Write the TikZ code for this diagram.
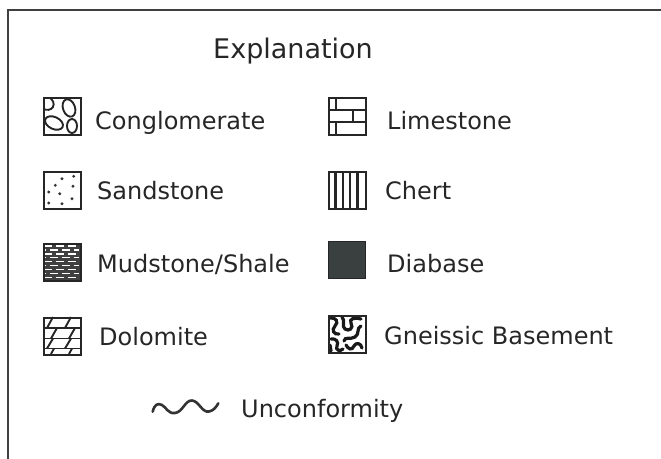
\documentclass[tikz,border=0pt]{standalone}
\usepackage{fontspec}
\setmainfont{DejaVu Sans}
\begin{document}
\begin{tikzpicture}[x=1pt,y=-1pt,
  frame/.style={draw=black!75,line width=2pt},
  symbox/.style={draw=black!85,line width=2.2pt},
  lbl/.style={anchor=base west,font=\fontsize{24}{28}\selectfont,text=black!85,inner sep=0pt},
  pat/.style={draw=black!85,line width=1.9pt}]
\useasboundingbox (0,0) rectangle (661,458);
% frame
\draw[frame] (8,459) -- (8,10) -- (662,10);
% title
\node[anchor=base,font=\fontsize{27}{32}\selectfont,text=black!85,inner sep=0pt] (title) at (293,58) {Explanation};

% ---- Conglomerate
\begin{scope}[shift={(43,97)}]
  \draw[pat] (3,6) ellipse [x radius=8,y radius=6.5,rotate=-30];
  \draw[pat] (26,11) ellipse [x radius=6,y radius=9,rotate=20];
  \draw[pat] (11,26) ellipse [x radius=9.5,y radius=6,rotate=-25];
  \draw[pat] (29,29) ellipse [x radius=5,y radius=7];
  \fill[white] (-10,-10) rectangle (47,0);
  \fill[white] (-10,-10) rectangle (0,47);
  \node[symbox,minimum size=37pt,inner sep=0pt,anchor=north west] (cong) at (0,0) {};
\end{scope}
\node[lbl] (tcong) at (95,129) {Conglomerate};

% ---- Sandstone
\begin{scope}[shift={(43,171)}]
  \node[symbox,minimum size=37pt,inner sep=0pt,anchor=north west] (sand) at (0,0) {};
  \foreach \p in {(19,7.7),(30.7,5.3),(12.3,14.3),(30,15.3),(5.7,21),(16.7,22.7),(29,27.7),(5.7,32),(19,32.7)}
    \fill[black!80] \p circle (1.6);
\end{scope}
\node[lbl] (tsand) at (97,199) {Sandstone};

% ---- Mudstone/Shale
\begin{scope}[shift={(43,243)}]
  \fill[black!75] (0,0) rectangle (37,37);
  \foreach \i in {0,...,8}{
    \pgfmathsetmacro\yy{3+\i*3.9}
    \pgfmathsetmacro\off{mod(\i,2)==0 ? 0 : 6}
    \draw[white,line width=1.4pt,dash pattern=on 8pt off 4pt,dash phase=\off pt] (1,\yy) -- (36,\yy);
  }
  \node[symbox,minimum size=37pt,inner sep=0pt,anchor=north west] (mud) at (0,0) {};
\end{scope}
\node[lbl] (tmud) at (97,272) {Mudstone/Shale};

% ---- Dolomite
\begin{scope}[shift={(43,317)}]
  \node[symbox,minimum size=37pt,inner sep=0pt,anchor=north west] (dolo) at (0,0) {};
  \draw[pat] (0,11) -- (37,11) (0,21.5) -- (37,21.5) (0,31.5) -- (37,31.5);
  \draw[pat] (4,11) -- (10,0) (22,11) -- (28,0);
  \draw[pat] (8,21.5) -- (14,11) (26,21.5) -- (32,11);
  \draw[pat] (4,31.5) -- (10,21.5) (22,31.5) -- (28,21.5);
  \draw[pat] (8,37) -- (11,31.5) (26,37) -- (29,31.5);
\end{scope}
\node[lbl] (tdolo) at (99,345) {Dolomite};

% ---- Limestone
\begin{scope}[shift={(328,97)}]
  \node[symbox,minimum size=37pt,inner sep=0pt,anchor=north west] (lime) at (0,0) {};
  \draw[pat] (0,13) -- (37,13) (0,25) -- (37,25);
  \draw[pat] (8,0) -- (8,13) (25,13) -- (25,25) (8,25) -- (8,37);
\end{scope}
\node[lbl] (tlime) at (387,129) {Limestone};

% ---- Chert
\begin{scope}[shift={(328,171)}]
  \node[symbox,minimum size=37pt,inner sep=0pt,anchor=north west] (chert) at (0,0) {};
  \foreach \xx in {7.4,14.8,22.2,29.6} \draw[pat,line width=2.3pt] (\xx,0) -- (\xx,37);
\end{scope}
\node[lbl] (tchert) at (385,199) {Chert};

% ---- Diabase
\node[draw=black!85,fill={rgb,255:red,58;green,64;blue,64},line width=1pt,minimum size=37pt,inner sep=0pt,anchor=north west] (diab) at (328,241) {};
\node[lbl] (tdiab) at (387,272) {Diabase};

% ---- Gneissic Basement
\begin{scope}[shift={(328,315)}]
  \begin{scope}
  \clip (0,0) rectangle (37,37);
  \draw[black!90,line width=3.2pt,line cap=round]
    (2,3) .. controls (8,2) and (11,7) .. (7,11) .. controls (3,15) and (6,20) .. (11,19)
    (14,2) .. controls (18,6) and (13,11) .. (17,14) .. controls (21,17) and (26,13) .. (23,8) .. controls (21,4) and (26,2) .. (33,4)
    (33,11) .. controls (28,13) and (32,19) .. (27,22) .. controls (22,25) and (17,21) .. (16,26)
    (3,24) .. controls (8,23) and (11,27) .. (9,31) .. controls (7,35) and (12,37) .. (15,34)
    (18,30) .. controls (20,34) and (24,36) .. (26,31) .. controls (28,27) and (33,28) .. (34,33)
    (2,30) -- (3,36);
  \end{scope}
  \node[symbox,minimum size=37pt,inner sep=0pt,anchor=north west] (gneiss) at (0,0) {};
\end{scope}
\node[lbl] (tgneiss) at (384,344) {Gneissic Basement};

% ---- Unconformity
\coordinate (u0) at (152.7,411.7);
\coordinate (u5) at (218.3,403.3);
\draw[black!80,line width=2.6pt,line cap=round]
  (u0) .. controls (154.5,404) and (158,403) .. (162,405)
  .. controls (166,407) and (168,414) .. (175,413)
  .. controls (183,412) and (185,400) .. (192,400.5)
  .. controls (199,401) and (202,413) .. (209,411.5)
  .. controls (214,410.5) and (216,407) .. (u5);
\node[lbl] (tunc) at (241,417) {Unconformity};
\end{tikzpicture}
\end{document}
